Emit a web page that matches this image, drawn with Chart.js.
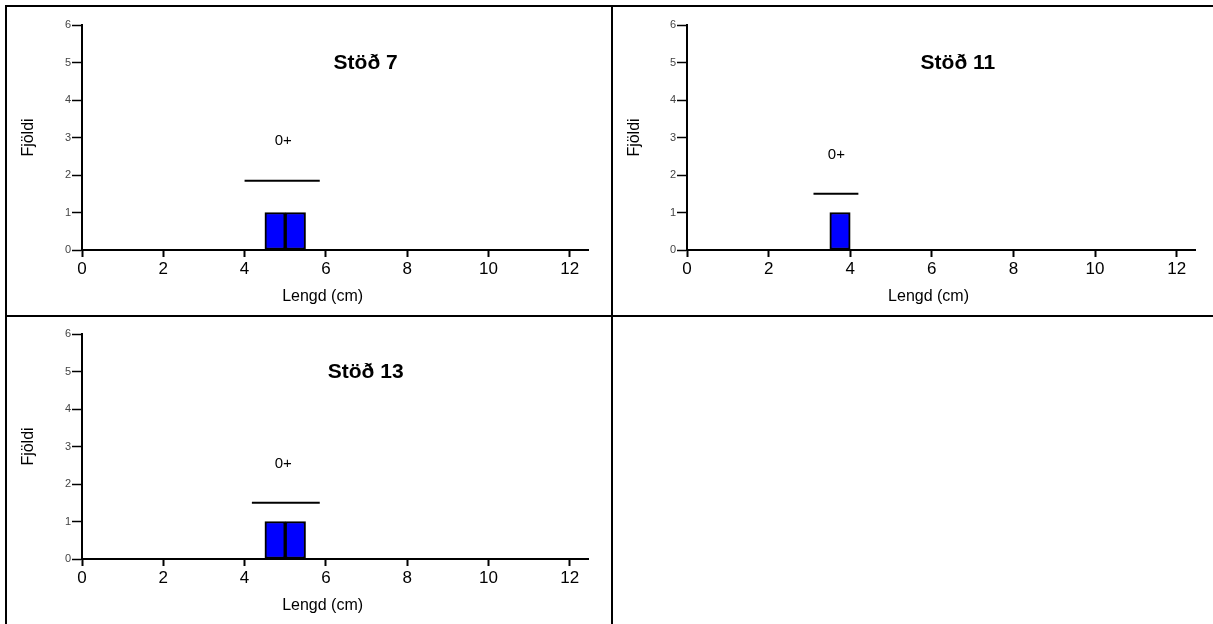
<!DOCTYPE html>
<html>
<head>
<meta charset="utf-8">
<script src="https://cdn.jsdelivr.net/npm/chart.js@4"></script>
<style>
    body { margin: 0; background: #fff; }
    #page { position: relative; width: 1213px; height: 624px; overflow: hidden; }
    .frame { position: absolute; background: #000; }
    .panel { position: absolute; }
</style>
</head>
<body>
<div id="page">
    <div class="frame" style="left:5px; top:5px; width:1208px; height:2px;"></div>
    <div class="frame" style="left:5px; top:5px; width:2px; height:619px;"></div>
    <div class="frame" style="left:5px; top:315px; width:1208px; height:2px;"></div>
    <div class="frame" style="left:611px; top:5px; width:2px; height:619px;"></div>
    <div class="panel" style="left:7px; top:7px; width:604px; height:308px;"><canvas id="chart7"></canvas></div>
    <div class="panel" style="left:613px; top:7px; width:600px; height:308px;"><canvas id="chart11"></canvas></div>
    <div class="panel" style="left:7px; top:317px; width:604px; height:307px;"><canvas id="chart13"></canvas></div>
</div>
<script>
// Station titles
const stationNames = ['Stöð 7', 'Stöð 11', 'Stöð 13'];

// Length bins (centre of each half-cm bin) and counts
const binCenters7 = [4.75, 5.25];
const counts7 = [1, 1];
const binCenters11 = [3.75];
const counts11 = [1];
const binCenters13 = [4.75, 5.25];
const counts13 = [1, 1];

// Age group line (0+) : start, end, height
const ageLineFrom = [4.0, 3.1, 4.18];
const ageLineTo = [5.85, 4.2, 5.85];
const ageLineY = [1.85, 1.5, 1.5];

// Age group label
const ageLabel = '0+';
const ageLabelX = [4.95, 3.66, 4.95];
const ageLabelY = [2.9, 2.55, 2.55];

// Title anchor in data units
const titleX = [6.98, 6.64, 6.98];
const titleY = [4.99, 4.99, 4.99];

// Axis titles and tick labels
const xAxisTitle = 'Lengd (cm)';
const xAxisTitleX = 5.92;
const yAxisTitle = 'Fjöldi';
const xTickLabels = [0, 2, 4, 6, 8, 10, 12];
const yTickLabels = [0, 1, 2, 3, 4, 5, 6];

const FONT = 'Arial, "Liberation Sans", sans-serif';

// Draws the station title, the age label and the x axis title
const textPlugin = {
    id: 'panelText',
    afterDatasetsDraw(chart, args, opts) {
        const { ctx, chartArea, scales: { x, y } } = chart;
        ctx.save();
        ctx.fillStyle = '#000';
        ctx.textAlign = 'center';
        ctx.textBaseline = 'middle';
        ctx.font = 'bold 21px ' + FONT;
        ctx.fillText(opts.title, x.getPixelForValue(opts.titleX), y.getPixelForValue(opts.titleY));
        ctx.font = '15px ' + FONT;
        ctx.fillText(opts.label, x.getPixelForValue(opts.labelX), y.getPixelForValue(opts.labelY));
        ctx.font = '16px ' + FONT;
        ctx.fillText(xAxisTitle, x.getPixelForValue(xAxisTitleX), chartArea.bottom + 47);
        ctx.restore();
    }
};

function makeChart(canvasId, i, centers, counts, yWidth, padTop, padRight, xHeight) {
    const bars = centers.map((c, k) => ({ x: c, y: counts[k] }));
    const line = [{ x: ageLineFrom[i], y: ageLineY[i] }, { x: ageLineTo[i], y: ageLineY[i] }];

    return new Chart(document.getElementById(canvasId), {
        type: 'bar',
        data: {
            datasets: [
                {
                    type: 'line',
                    data: line,
                    borderColor: '#000',
                    borderWidth: 2,
                    pointRadius: 0,
                    fill: false
                },
                {
                    type: 'bar',
                    data: bars,
                    backgroundColor: '#0000ff',
                    borderColor: '#000',
                    borderWidth: 2,
                    borderSkipped: false,
                    categoryPercentage: 1,
                    barPercentage: 1
                }
            ]
        },
        options: {
            responsive: true,
            maintainAspectRatio: false,
            animation: false,
            layout: { padding: { top: padTop, right: padRight, left: 0, bottom: 0 } },
            plugins: {
                legend: { display: false },
                tooltip: { enabled: false },
                panelText: {
                    title: stationNames[i],
                    titleX: titleX[i], titleY: titleY[i],
                    label: ageLabel,
                    labelX: ageLabelX[i], labelY: ageLabelY[i]
                }
            },
            scales: {
                x: {
                    type: 'linear',
                    min: 0,
                    max: 12.45,
                    offset: false,
                    afterFit: (s) => { s.height = xHeight; },
                    border: { display: true, color: '#000', width: 2 },
                    grid: {
                        display: true,
                        offset: false,
                        drawOnChartArea: false,
                        drawTicks: true,
                        tickLength: 7,
                        tickWidth: 2,
                        tickColor: (ctx) => (ctx.tick && xTickLabels.includes(ctx.tick.value)) ? '#000' : 'rgba(0,0,0,0)'
                    },
                    ticks: {
                        stepSize: 0.5,
                        includeBounds: false,
                        autoSkip: false,
                        maxRotation: 0,
                        minRotation: 0,
                        padding: 2,
                        color: '#000',
                        font: { family: FONT, size: 17 },
                        callback: (v) => xTickLabels.includes(v) ? String(v) : ''
                    }
                },
                y: {
                    min: 0,
                    max: 6,
                    afterFit: (s) => { s.width = yWidth; },
                    border: { display: true, color: '#000', width: 2 },
                    grid: {
                        display: true,
                        drawOnChartArea: false,
                        drawTicks: true,
                        tickLength: 10,
                        tickWidth: 1.5,
                        tickColor: '#000'
                    },
                    ticks: {
                        stepSize: 1,
                        padding: 1,
                        color: '#444',
                        font: { family: FONT, size: 11 },
                        callback: (v) => yTickLabels.includes(v) ? String(v) : ''
                    },
                    title: {
                        display: true,
                        text: yAxisTitle,
                        color: '#000',
                        font: { family: FONT, size: 16 },
                        padding: { top: 12, bottom: 0 }
                    }
                }
            }
        },
        plugins: [textPlugin]
    });
}

// Build the three station panels
makeChart('chart7', 0, binCenters7, counts7, 75, 18, 23, 65);
makeChart('chart11', 1, binCenters11, counts11, 74, 18, 18, 65);
makeChart('chart13', 2, binCenters13, counts13, 75, 17, 23, 65);
</script>
</body>
</html>
